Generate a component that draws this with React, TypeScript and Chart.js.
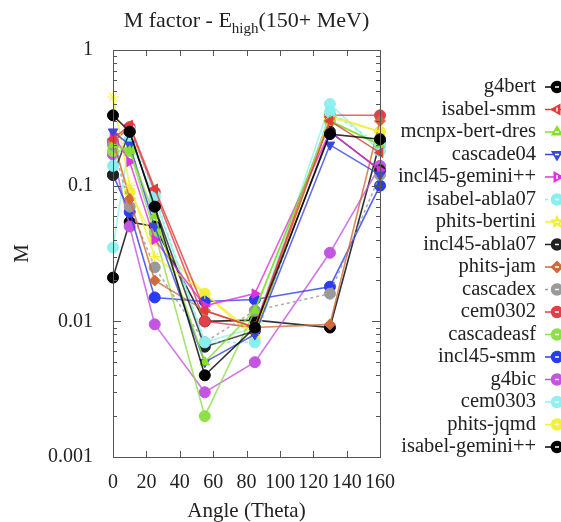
import React, { useEffect, useRef } from "react";
import { Chart, registerables } from "chart.js";

Chart.register(...registerables);

const angles = [0, 10, 25, 55, 85, 130, 160];

const seriesNames = [
  "g4bert", "isabel-smm", "mcnpx-bert-dres", "cascade04", "incl45-gemini++",
  "isabel-abla07", "phits-bertini", "incl45-abla07", "phits-jam", "cascadex",
  "cem0302", "cascadeasf", "incl45-smm", "g4bic", "cem0303", "phits-jqmd", "isabel-gemini++",
];

const g4bert = [0.33, 0.25, 0.07, 0.004, 0.009, 0.24, 0.22];
const isabelSmm = [0.22, 0.28, 0.095, 0.012, 0.009, 0.3, 0.175];
const mcnpxBertDres = [0.2, 0.18, 0.06, 0.005, 0.012, 0.3, 0.2];
const cascade04 = [0.25, 0.2, 0.05, 0.005, 0.008, 0.2, 0.12];
const incl45Gemini = [0.24, 0.15, 0.04, 0.013, 0.016, 0.25, 0.13];
const isabelAbla07 = [0.14, 0.26, 0.085, 0.007, 0.007, 0.35, 0.2];
const phitsBertini = [0.45, 0.1, 0.03, 0.016, 0.008, 0.33, 0.25];
const incl45Abla07 = [0.12, 0.25, 0.07, 0.0065, 0.0085, 0.25, 0.13];
const phitsJam = [0.22, 0.08, 0.02, 0.012, 0.009, 0.0095, 0.3];
const cascadex = [0.2, 0.07, 0.025, 0.007, 0.012, 0.016, 0.12];
const cem0302 = [0.21, 0.27, 0.09, 0.01, 0.009, 0.33, 0.33];
const cascadeasf = [0.18, 0.18, 0.045, 0.002, 0.012, 0.3, 0.2];
const incl45Smm = [0.12, 0.064, 0.015, 0.014, 0.0145, 0.018, 0.1];
const g4bic = [0.17, 0.05, 0.0095, 0.003, 0.005, 0.032, 0.14];
const cem0303 = [0.035, 0.22, 0.08, 0.007, 0.009, 0.4, 0.18];
const phitsJqmd = [0.2, 0.09, 0.04, 0.016, 0.0075, 0.32, 0.25];
const isabelGemini = [0.021, 0.054, 0.05, 0.01, 0.0102, 0.009, 0.21];

const seriesValues = [
  g4bert, isabelSmm, mcnpxBertDres, cascade04, incl45Gemini, isabelAbla07,
  phitsBertini, incl45Abla07, phitsJam, cascadex, cem0302, cascadeasf,
  incl45Smm, g4bic, cem0303, phitsJqmd, isabelGemini,
];

const yTickLabels = ["1", "0.1", "0.01", "0.001"];

const colors = [
  "#000000", "#e23b3b", "#86e02a", "#3a46e0", "#e030e0", "#88eeee",
  "#f2ee30", "#222222", "#cf6a3c", "#9a9a9a", "#e0404a", "#8ee048",
  "#2a3cf0", "#c455e0", "#92f0f0", "#f4f040", "#000000",
];
const styles: any[] = [
  "circle", "triangle", "triangle", "triangle", "triangle", "circle",
  "star", "circle", "rectRot", "circle", "circle", "circle",
  "circle", "circle", "circle", "circle", "circle",
];
const rotations = [0, 270, 0, 180, 90, 0, 0, 0, 0, 0, 0, 0, 0, 0, 0, 0, 0];
const dashed = [false, false, false, false, false, true, false, false, false, true, false, false, false, false, false, false, false];

const FONT = "'Liberation Serif', 'Times New Roman', serif";

const framePlugin = {
  id: "framePlugin",
  afterDraw(chart: any) {
    const { ctx, chartArea } = chart;
    const { left, right, top, bottom } = chartArea;
    const xs = chart.scales.x;
    const ys = chart.scales.y;
    ctx.save();
    ctx.strokeStyle = "#555";
    ctx.lineWidth = 1;
    ctx.strokeRect(left + 0.5, top + 0.5, right - left, bottom - top);
    for (let v = 20; v < 160; v += 20) {
      const px = Math.round(xs.getPixelForValue(v)) + 0.5;
      ctx.beginPath();
      ctx.moveTo(px, bottom);
      ctx.lineTo(px, bottom - 6);
      ctx.moveTo(px, top);
      ctx.lineTo(px, top + 6);
      ctx.stroke();
    }
    for (let e = -3; e <= 0; e++) {
      for (let m = 1; m <= 9; m++) {
        const v = m * Math.pow(10, e);
        if (v > 1) break;
        const py = Math.round(ys.getPixelForValue(v)) + 0.5;
        const len = m === 1 ? 8 : 4;
        ctx.beginPath();
        ctx.moveTo(left, py);
        ctx.lineTo(left + len, py);
        ctx.moveTo(right, py);
        ctx.lineTo(right - len, py);
        ctx.stroke();
      }
    }
    // title
    ctx.fillStyle = "#222";
    ctx.textBaseline = "alphabetic";
    const big = "22px " + FONT;
    const small = "15px " + FONT;
    const p1 = "M factor - E";
    const p2 = "high";
    const p3 = "(150+ MeV)";
    ctx.font = big;
    const w1 = ctx.measureText(p1).width;
    const w3 = ctx.measureText(p3).width;
    ctx.font = small;
    const w2 = ctx.measureText(p2).width;
    const total = w1 + w2 + w3;
    const x0 = (left + right) / 2 - total / 2;
    const base = 27;
    ctx.textAlign = "left";
    ctx.font = big;
    ctx.fillText(p1, x0, base);
    ctx.font = small;
    ctx.fillText(p2, x0 + w1, base + 6);
    ctx.font = big;
    ctx.fillText(p3, x0 + w1 + w2, base);
    // axis titles
    ctx.font = "21px " + FONT;
    ctx.textAlign = "center";
    ctx.textBaseline = "middle";
    ctx.fillText("Angle (Theta)", (left + right) / 2, 511);
    ctx.save();
    ctx.translate(22, (top + bottom) / 2);
    ctx.rotate(-Math.PI / 2);
    ctx.fillText("M", 0, 0);
    ctx.restore();
    // legend
    ctx.font = "20.5px " + FONT;
    ctx.textAlign = "right";
    ctx.textBaseline = "middle";
    seriesNames.forEach((name, i) => {
      const y = 87 + i * 22.5;
      ctx.fillStyle = "#222";
      ctx.fillText(name, 536, y);
      ctx.strokeStyle = colors[i];
      ctx.lineWidth = 1.5;
      ctx.setLineDash(dashed[i] ? [3, 3] : []);
      ctx.beginPath();
      ctx.moveTo(545, y);
      ctx.lineTo(561, y);
      ctx.stroke();
      ctx.setLineDash([]);
      drawMarker(ctx, styles[i], rotations[i], 557, y, colors[i]);
    });
    ctx.restore();
  },
};

function drawMarker(ctx: any, style: string, rot: number, x: number, y: number, color: string) {
  const r = 5.5;
  ctx.save();
  ctx.translate(x, y);
  ctx.rotate((rot * Math.PI) / 180);
  ctx.fillStyle = color;
  ctx.strokeStyle = color;
  ctx.lineWidth = 1.5;
  ctx.beginPath();
  if (style === "triangle") {
    ctx.moveTo(0, -r);
    ctx.lineTo(r * 0.87, r * 0.5);
    ctx.lineTo(-r * 0.87, r * 0.5);
    ctx.closePath();
  } else if (style === "rectRot") {
    ctx.moveTo(0, -r);
    ctx.lineTo(r, 0);
    ctx.lineTo(0, r);
    ctx.lineTo(-r, 0);
    ctx.closePath();
  } else if (style === "star") {
    for (let k = 0; k < 10; k++) {
      const rr = k % 2 === 0 ? r : r * 0.45;
      const a = (k * Math.PI) / 5 - Math.PI / 2;
      const px = rr * Math.cos(a);
      const py = rr * Math.sin(a);
      if (k === 0) ctx.moveTo(px, py);
      else ctx.lineTo(px, py);
    }
    ctx.closePath();
  } else {
    ctx.arc(0, 0, r, 0, Math.PI * 2);
  }
  ctx.fill();
  ctx.stroke();
  ctx.fillStyle = "#ffffff";
  ctx.fillRect(-2, -0.75, 4, 1.5);
  ctx.restore();
}

export default function App() {
  const ref = useRef<HTMLCanvasElement>(null);
  useEffect(() => {
    if (!ref.current) return;
    const datasets = seriesNames.map((name, i) => ({
      label: name,
      data: angles.map((a, j) => ({ x: a, y: seriesValues[i][j] })),
      borderColor: colors[i] + "cc",
      backgroundColor: colors[i],
      pointBackgroundColor: colors[i],
      pointBorderColor: colors[i],
      pointStyle: styles[i],
      pointRotation: rotations[i],
      pointRadius: 5.5,
      pointBorderWidth: 1,
      borderWidth: 1.6,
      borderDash: dashed[i] ? [3, 3] : [],
      tension: 0,
      clip: false as any,
    }));
    const chart = new Chart(ref.current, {
      type: "line",
      data: { datasets },
      options: {
        responsive: false,
        animation: false,
        layout: { padding: { top: 50, right: 181, left: 0, bottom: 0 } },
        plugins: { legend: { display: false }, tooltip: { enabled: false }, title: { display: false } },
        scales: {
          x: {
            type: "linear",
            min: 0,
            max: 160,
            grid: { display: false },
            border: { display: false },
            ticks: {
              stepSize: 20,
              padding: 6,
              autoSkip: false,
              maxRotation: 0,
              minRotation: 0,
              color: "#222",
              font: { family: FONT, size: 20 },
            },
            afterFit: (s: any) => { s.height = 65; },
          },
          y: {
            type: "logarithmic",
            min: 0.001,
            max: 1,
            grid: { display: false },
            border: { display: false },
            ticks: {
              padding: 12,
              color: "#222",
              autoSkip: false,
              font: { family: FONT, size: 20 },
              callback: (v: any) => {
                const e = Math.round(-Math.log10(Number(v)));
                if (Math.abs(Number(v) - Math.pow(10, -e)) < 1e-9 && e >= 0 && e <= 3) return yTickLabels[e];
                return "";
              },
            },
            afterFit: (s: any) => { s.width = 113; },
          },
        },
      } as any,
      plugins: [framePlugin],
    });
    return () => chart.destroy();
  }, []);
  return (
    <div style={{ position: "fixed", left: 0, top: 0, width: 561, height: 522, background: "#fff" }}>
      <canvas ref={ref} width={561} height={522} />
    </div>
  );
}
